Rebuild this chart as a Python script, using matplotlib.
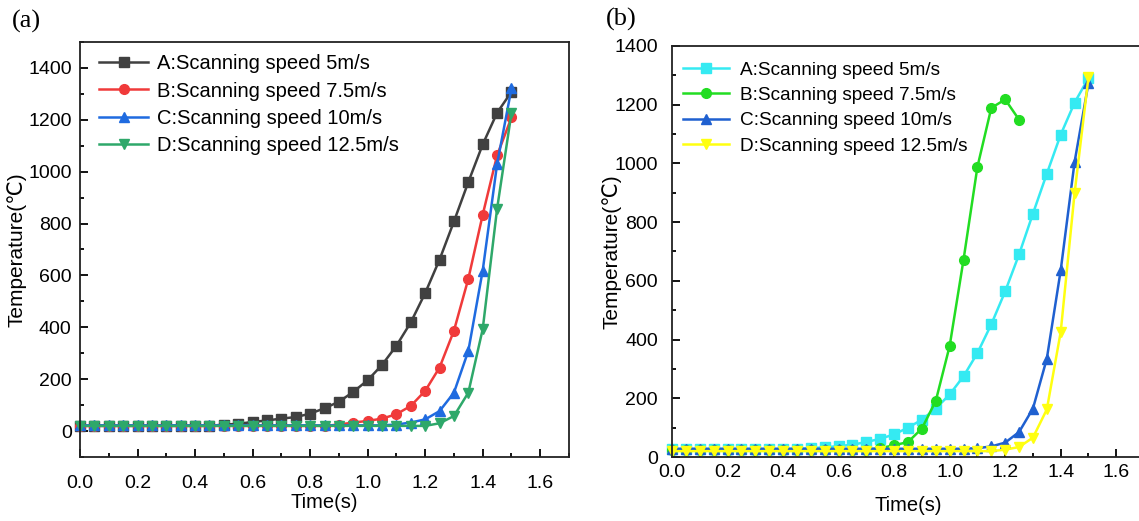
import matplotlib
matplotlib.use("Agg")
import matplotlib.pyplot as plt
from matplotlib.ticker import MultipleLocator

plt.rcParams['font.family'] = ['Liberation Sans', 'DejaVu Sans']

# time axis shared by every series (s)
t = [i * 0.05 for i in range(31)]

# ---- panel (a) ----
a_A = [20, 20, 20, 20, 20, 20, 20, 20, 20, 20, 25, 28, 35, 41, 48, 54, 67, 88, 113, 151,
       196, 255, 329, 419, 532, 661, 808, 960, 1105, 1227, 1308]
a_B = [20, 20, 20, 20, 20, 20, 20, 20, 20, 20, 20, 20, 20, 20, 20, 20, 20, 20, 25, 33,
       39, 48, 65, 97, 155, 245, 387, 587, 834, 1063, 1209]
a_C = [22, 22, 22, 22, 22, 22, 22, 22, 22, 22, 22, 22, 22, 22, 22, 22, 22, 22, 22, 22,
       22, 22, 25, 33, 45, 77, 148, 309, 619, 1029, 1321]
a_D = [20, 20, 20, 20, 20, 20, 20, 20, 20, 20, 20, 20, 20, 20, 20, 20, 20, 20, 20, 20,
       20, 20, 20, 20, 20, 30, 58, 148, 393, 857, 1227]

# ---- panel (b) ----
b_A = [27, 27, 27, 27, 27, 27, 27, 27, 27, 28, 30, 33, 37, 42, 51, 62, 77, 100, 127, 165,
       213, 275, 354, 452, 564, 690, 829, 965, 1098, 1207, 1291]
b_B = [25, 25, 25, 25, 25, 25, 25, 25, 25, 25, 25, 25, 25, 25, 25, 30, 40, 51, 97, 191,
       378, 672, 988, 1189, 1218, 1149]
b_C = [28, 28, 28, 28, 28, 28, 28, 28, 28, 28, 28, 28, 28, 28, 28, 28, 28, 28, 28, 28,
       28, 28, 30, 36, 49, 85, 165, 335, 636, 1005, 1274]
b_D = [20, 20, 20, 20, 20, 20, 20, 20, 20, 20, 20, 20, 20, 20, 20, 20, 20, 20, 20, 20,
       20, 20, 20, 20, 25, 34, 66, 162, 426, 899, 1294]

labels = ["A:Scanning speed 5m/s", "B:Scanning speed 7.5m/s",
          "C:Scanning speed 10m/s", "D:Scanning speed 12.5m/s"]
markers = ['s', 'o', '^', 'v']
colors_a = ['#404040', '#F03A3A', '#1F6BE0', '#2EA86A']
colors_b = ['#35EAF2', '#22DD22', '#1F60D0', '#FFFF10']

W, H = 1139, 521
fig = plt.figure(figsize=(W / 100, H / 100), dpi=100)

ax1 = fig.add_axes([80 / W, 64 / H, 489 / W, 415 / H])
ax2 = fig.add_axes([672 / W, 64 / H, 472 / W, 411 / H])


def style(ax, ylo, yhi, xpad, ypad, xlpad, ylpad):
  ax.set_xlim(0, 1.7)
  ax.set_ylim(ylo, yhi)
  ax.xaxis.set_major_locator(MultipleLocator(0.2))
  ax.xaxis.set_minor_locator(MultipleLocator(0.1))
  ax.yaxis.set_major_locator(MultipleLocator(200))
  ax.yaxis.set_minor_locator(MultipleLocator(100))
  ax.set_yticks(range(0, 1401, 200))
  ax.tick_params(which='both', direction='in', top=False, right=False,
                 labelsize=14, width=1.3)
  ax.tick_params(axis='x', pad=xpad)
  ax.tick_params(axis='y', pad=ypad)
  ax.tick_params(which='major', length=6)
  ax.tick_params(which='minor', length=3)
  for s in ax.spines.values():
    s.set_linewidth(1.3)
    s.set_color('#222222')
  ax.set_xlabel("Time(s)", fontsize=14.5, labelpad=xlpad)
  ax.set_ylabel("Temperature(℃)", fontsize=15, labelpad=ylpad)


for ys, m, c, lab in zip([a_A, a_B, a_C, a_D], markers, colors_a, labels):
  ax1.plot(t[:len(ys)], ys, marker=m, markersize=7, color=c, linewidth=1.8,
           label=lab, clip_on=False)
for ys, m, c, lab in zip([b_A, b_B, b_C, b_D], markers, colors_b, labels):
  ax2.plot(t[:len(ys)], ys, marker=m, markersize=7, color=c, linewidth=1.8,
           label=lab, clip_on=False)

style(ax1, -100, 1500, 13, 6, 1, 1)
style(ax2, 0, 1400, 5, 10, 11, -5)

ax1.legend(loc='upper left', frameon=False, fontsize=14.5, handlelength=2.4,
           handletextpad=0.45, labelspacing=0.42, borderaxespad=0.2,
           bbox_to_anchor=(0.015, 1.0))
ax2.legend(loc='upper left', frameon=False, fontsize=13.7, handlelength=2.4,
           handletextpad=0.6, labelspacing=0.42, borderaxespad=0.2,
           bbox_to_anchor=(0.0, 0.99))

fig.text(12 / W, 1 - 21 / H, "(a)", fontsize=19, family='Liberation Serif', va='center')
fig.text(606 / W, 1 - 19 / H, "(b)", fontsize=19, family='Liberation Serif', va='center')

fig.savefig("out.png", dpi=100)
